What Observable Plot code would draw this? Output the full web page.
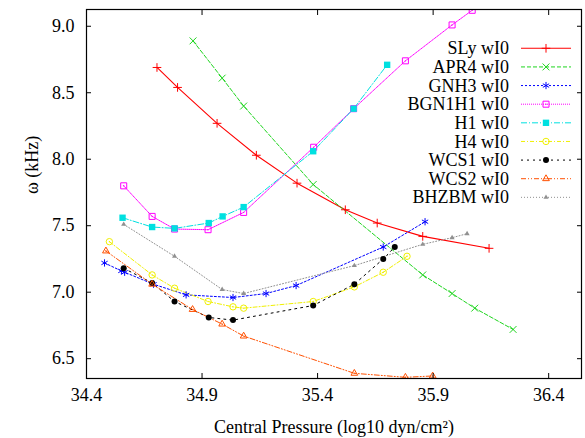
<!DOCTYPE html>
<html>
<head>
<meta charset="utf-8">
<script src="https://cdn.jsdelivr.net/npm/d3@7"></script>
<script src="https://cdn.jsdelivr.net/npm/@observablehq/plot@0.6"></script>
<style>
  html, body { margin: 0; padding: 0; background: white; }
</style>
</head>
<body>
<div id="chart"></div>
<script>
// ---- Data ----
const xTicks = [34.4, 34.9, 35.4, 35.9, 36.4];
const yTicks = [6.5, 7.0, 7.5, 8.0, 8.5, 9.0];
const xLabel = "Central Pressure (log10 dyn/cm²)";
const yLabel = "ω (kHz)";

const seriesNames = ["SLy wI0", "APR4 wI0", "GNH3 wI0", "BGN1H1 wI0", "H1 wI0", "H4 wI0", "WCS1 wI0", "WCS2 wI0", "BHZBM wI0"];

const slyX = [34.705, 34.794, 34.965, 35.135, 35.311, 35.520, 35.658, 35.855, 36.142];
const slyY = [8.69, 8.54, 8.27, 8.03, 7.82, 7.62, 7.52, 7.42, 7.33];

const apr4X = [34.861, 34.987, 35.080, 35.381, 35.855, 35.982, 36.080, 36.246];
const apr4Y = [8.89, 8.61, 8.40, 7.81, 7.13, 6.99, 6.88, 6.72];

const gnh3X = [34.478, 34.551, 34.565, 34.690, 34.831, 35.034, 35.177, 35.307, 35.684, 35.865];
const gnh3Y = [7.22, 7.16, 7.15, 7.06, 6.98, 6.96, 6.99, 7.05, 7.34, 7.53];

const bgnX = [34.561, 34.684, 34.781, 34.926, 35.080, 35.383, 35.556, 35.780, 35.982, 36.069];
const bgnY = [7.80, 7.57, 7.475, 7.47, 7.60, 8.09, 8.38, 8.74, 9.01, 9.12];

const h1X = [34.556, 34.684, 34.781, 34.929, 34.989, 35.080, 35.381, 35.556, 35.701];
const h1Y = [7.56, 7.49, 7.48, 7.52, 7.57, 7.64, 8.06, 8.38, 8.71];

const h4X = [34.499, 34.684, 34.781, 34.926, 35.034, 35.080, 35.381, 35.559, 35.684, 35.787];
const h4Y = [7.38, 7.13, 7.03, 6.93, 6.89, 6.88, 6.93, 7.04, 7.15, 7.27];

const wcs1X = [34.561, 34.684, 34.781, 34.929, 35.034, 35.381, 35.559, 35.684, 35.734];
const wcs1Y = [7.18, 7.07, 6.93, 6.81, 6.79, 6.90, 7.06, 7.25, 7.34];

const wcs2X = [34.484, 34.684, 34.859, 34.987, 35.080, 35.559, 35.780, 35.898];
const wcs2Y = [7.31, 7.06, 6.87, 6.76, 6.67, 6.39, 6.36, 6.37];

const bhzX = [34.561, 34.781, 34.987, 35.080, 35.559, 35.855, 35.982, 36.047];
const bhzY = [7.51, 7.27, 7.02, 6.99, 7.20, 7.36, 7.41, 7.44];

// ---- Styles ----
const styles = [
  {color: "#ff0000", dash: null,          symbol: "plus",     r: 2.9, filled: false, dot: false, width: 1.1},
  {color: "#1ed51e", dash: "4,2",         symbol: "times",    r: 3.2, filled: false, dot: false, width: 1.0},
  {color: "#0000ff", dash: "2,2",         symbol: "asterisk", r: 3.4, filled: false, dot: false, width: 1.0},
  {color: "#ff00ff", dash: "1,1",         symbol: "square",   r: 3.4, filled: false, dot: true,  width: 1.0},
  {color: "#00e0e0", dash: "6,2,1,2",     symbol: "square",   r: 3.6, filled: true,  dot: false, width: 1.0},
  {color: "#f0f000", dash: "4,2,1,2",     symbol: "circle",   r: 3.2, filled: false, dot: true,  width: 1.0},
  {color: "#000000", dash: "2,4",         symbol: "circle",   r: 3.0, filled: true,  dot: false, width: 1.0},
  {color: "#ff5000", dash: "5,2,1,2,1,2", symbol: "triangle", r: 2.5, filled: false, dot: true,  width: 1.0},
  {color: "#909090", dash: "1,2",         symbol: "triangle", r: 1.9, filled: true,  dot: false, width: 1.0}
];

const seriesXY = [[slyX, slyY], [apr4X, apr4Y], [gnh3X, gnh3Y], [bgnX, bgnY], [h1X, h1Y], [h4X, h4Y], [wcs1X, wcs1Y], [wcs2X, wcs2Y], [bhzX, bhzY]];
const series = seriesNames.map((name, i) => ({
  name,
  style: styles[i],
  data: seriesXY[i][0].map((x, j) => ({x, y: seriesXY[i][1][j]}))
}));

const marks = [];
for (const s of series) {
  const st = s.style;
  marks.push(Plot.line(s.data, {x: "x", y: "y", stroke: st.color, strokeWidth: st.width, strokeDasharray: st.dash, clip: true}));
}
for (const s of series) {
  const st = s.style;
  marks.push(Plot.dot(s.data, {
    x: "x", y: "y", symbol: st.symbol, r: st.r,
    stroke: st.filled ? "none" : st.color,
    fill: st.filled ? st.color : "none",
    strokeWidth: 1, clip: true
  }));
  if (st.dot) marks.push(Plot.dot(s.data, {x: "x", y: "y", r: 0.7, fill: st.color, stroke: "none", clip: true}));
}

const chart = Plot.plot({
  width: 585,
  height: 438,
  marginLeft: 86,
  marginRight: 4,
  marginTop: 9,
  marginBottom: 60,
  x: {domain: [34.4, 36.542]},
  y: {domain: [6.351, 9.126]},
  style: {fontFamily: "'Liberation Serif', 'Times New Roman', serif", fontSize: "18px", background: "white", color: "black"},
  marks: [
    ...marks,
    Plot.frame({stroke: "black", strokeWidth: 1.2}),
    Plot.axisX(xTicks, {anchor: "bottom", tickSize: 0, tickPadding: 10, tickFormat: d3.format(".1f"), label: null}),
    Plot.axisX(xTicks, {anchor: "bottom", tickSize: -5, tickFormat: () => "", label: null}),
    Plot.axisX(xTicks, {anchor: "top", tickSize: -5, tickFormat: () => "", label: null}),
    Plot.axisY(yTicks, {anchor: "left", tickSize: 0, tickPadding: 12, tickFormat: d3.format(".1f"), label: null}),
    Plot.axisY(yTicks, {anchor: "left", tickSize: -5, tickFormat: () => "", label: null}),
    Plot.axisY(yTicks, {anchor: "right", tickSize: -5, tickFormat: () => "", label: null}),
    Plot.text([xLabel], {frameAnchor: "bottom", dy: 49, text: d => d, fill: "black", lineAnchor: "middle"}),
    Plot.text([yLabel], {frameAnchor: "left", dx: -54, rotate: -90, text: d => d, fill: "black"})
  ]
});

// ---- Legend (inside the frame, top right) ----
const svg = d3.select(chart);
const g = svg.append("g").attr("class", "legend");
const symbolTypes = {plus: d3.symbolPlus, times: d3.symbolTimes, asterisk: d3.symbolAsterisk, square: d3.symbolSquare, circle: d3.symbolCircle, triangle: d3.symbolTriangle};
series.forEach((s, i) => {
  const st = s.style;
  const cy = 48.3 + i * 18.63;
  g.append("text")
    .attr("x", 509).attr("y", cy).attr("dy", "0.34em")
    .attr("text-anchor", "end").attr("fill", "black")
    .attr("font-family", "'Liberation Serif', serif").attr("font-size", 18)
    .text(s.name);
  g.append("line")
    .attr("x1", 521).attr("x2", 571).attr("y1", cy).attr("y2", cy)
    .attr("stroke", st.color).attr("stroke-width", st.width)
    .attr("stroke-dasharray", st.dash);
  g.append("path")
    .attr("transform", `translate(546,${cy})`)
    .attr("d", d3.symbol(symbolTypes[st.symbol], st.r * st.r * Math.PI)())
    .attr("fill", st.filled ? st.color : "none")
    .attr("stroke", st.filled ? "none" : st.color)
    .attr("stroke-width", 1);
  if (st.dot) g.append("circle").attr("cx", 546).attr("cy", cy).attr("r", 0.7).attr("fill", st.color);
});

document.getElementById("chart").appendChild(chart);
</script>
</body>
</html>
